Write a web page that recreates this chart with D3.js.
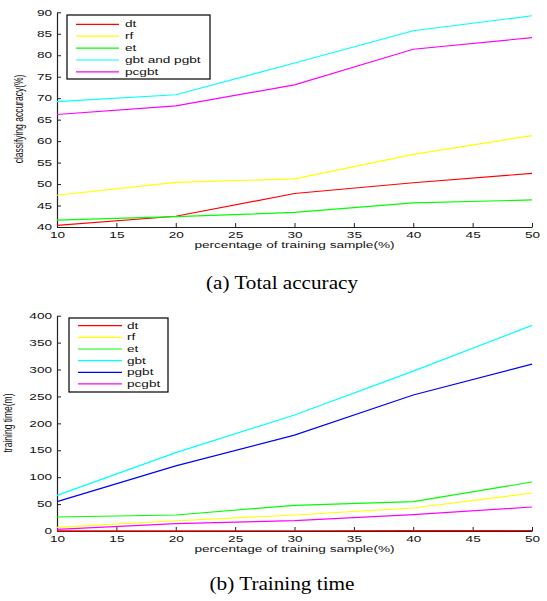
<!DOCTYPE html>
<html>
<head>
<meta charset="utf-8">
<script src="https://cdn.jsdelivr.net/npm/d3@7"></script>
<style>
  html, body { margin: 0; padding: 0; background: #fff; }
  svg { display: block; }
</style>
</head>
<body>
<script>
// Shared x values: percentage of training sample
const samplePct = [10, 20, 30, 40, 50];

// (a) Total accuracy (%)
const accDt      = [40.4, 42.5, 47.8, 50.3, 52.5];
const accRf      = [47.4, 50.4, 51.2, 56.9, 61.3];
const accEt      = [41.6, 42.4, 43.4, 45.6, 46.3];
const accGbt     = [69.2, 70.8, 78.2, 85.7, 89.2];
const accPcgbt   = [66.2, 68.2, 73.1, 81.4, 84.1];
const accNames   = ["dt", "rf", "et", "gbt and pgbt", "pcgbt"];
const accColors  = ["#ff0000", "#ffff00", "#00ff00", "#00ffff", "#ff00ff"];
const accTicks   = [40, 45, 50, 55, 60, 65, 70, 75, 80, 85, 90];

// (b) Training time (m)
const timeDt     = [0.3, 0.4, 0.5, 0.7, 0.9];
const timeRf     = [6.8, 19, 29.7, 42.7, 70.6];
const timeEt     = [26, 29.7, 47.7, 54.5, 91];
const timeGbt    = [66.3, 145.5, 215.5, 297, 382];
const timePgbt   = [54.5, 121, 178, 252.7, 310];
const timePcgbt  = [3.1, 13.6, 19.2, 30.3, 44.6];
const timeNames  = ["dt", "rf", "et", "gbt", "pgbt", "pcgbt"];
const timeColors = ["#ff0000", "#ffff00", "#00ff00", "#00ffff", "#0000ff", "#ff00ff"];
const timeTicks  = [0, 50, 100, 150, 200, 250, 300, 350, 400];

const xTicks = [10, 15, 20, 25, 30, 35, 40, 45, 50];

const W = 547, H = 601;
const SX = 1.6;            // horizontal glyph stretch of the figure text
const FONT = "'Liberation Sans', Arial, Helvetica, sans-serif";
const FS = 8.5;

const svg = d3.select("body").append("svg")
  .attr("width", W).attr("height", H)
  .attr("viewBox", `0 0 ${W} ${H}`);

function stretchedText(g, x, y, txt, anchor) {
  return g.append("text")
    .attr("transform", `translate(${x},${y}) scale(${SX},1)`)
    .attr("text-anchor", anchor || "start")
    .attr("font-family", FONT)
    .attr("font-size", FS)
    .attr("fill", "#111")
    .text(txt);
}

function drawPanel(cfg) {
  const g = svg.append("g");
  const x = d3.scaleLinear().domain([10, 50]).range([57, 532]);
  const y = d3.scaleLinear().domain(cfg.yDomain).range([cfg.yBottom, cfg.yTop]);

  // axes with inward ticks
  const xAxis = d3.axisBottom(x).tickValues(xTicks).tickSizeInner(-4).tickSizeOuter(0).tickPadding(5);
  const yAxis = d3.axisLeft(y).tickValues(cfg.yTicks).tickSizeInner(-4).tickSizeOuter(0).tickPadding(5);

  const gx = g.append("g").attr("transform", `translate(0,${cfg.yBottom})`).call(xAxis);
  const gy = g.append("g").attr("transform", `translate(57,0)`).call(yAxis);

  [gx, gy].forEach(a => {
    a.select(".domain").attr("stroke", "#222").attr("stroke-width", 1.2);
    a.selectAll(".tick line").attr("stroke", "#222").attr("stroke-width", 1);
    a.selectAll(".tick text")
      .attr("font-family", FONT).attr("font-size", FS).attr("fill", "#111");
  });
  gx.selectAll(".tick text").attr("transform", `scale(${SX},1)`);
  gy.selectAll(".tick text").attr("x", -5 / SX).attr("transform", `scale(${SX},1)`);

  // series lines
  const line = d3.line().x((d, i) => x(samplePct[i])).y(d => y(d));
  cfg.series.forEach((s, i) => {
    g.append("path")
      .datum(s)
      .attr("fill", "none")
      .attr("stroke", cfg.colors[i])
      .attr("stroke-width", 1.2)
      .attr("d", line);
  });

  // axis labels
  stretchedText(g, 294.5, cfg.yBottom + 21, "percentage of training sample(%)", "middle");
  g.append("text")
    .attr("transform", `translate(${cfg.yLabelX},${cfg.yLabelY}) scale(${SX},1) rotate(-90)`)
    .attr("text-anchor", "middle")
    .attr("font-family", FONT)
    .attr("font-size", FS)
    .attr("fill", "#111")
    .text(cfg.yLabel);

  // legend
  const L = cfg.legend;
  g.append("rect")
    .attr("x", L.x0).attr("y", L.y0)
    .attr("width", L.x1 - L.x0).attr("height", L.y1 - L.y0)
    .attr("fill", "#fff").attr("stroke", "#000").attr("stroke-width", 1.2);
  cfg.names.forEach((n, i) => {
    const yy = L.firstRow + i * L.step;
    g.append("line")
      .attr("x1", L.lx0).attr("x2", L.lx1).attr("y1", yy).attr("y2", yy)
      .attr("stroke", cfg.colors[i]).attr("stroke-width", 1.2);
    stretchedText(g, L.tx, yy + 3, n, "start");
  });

  // caption
  svg.append("text")
    .attr("x", 282).attr("y", cfg.captionY)
    .attr("text-anchor", "middle")
    .attr("font-family", "'Liberation Serif', 'Times New Roman', serif")
    .attr("font-size", 19)
    .attr("fill", "#000")
    .attr("textLength", cfg.captionLen)
    .attr("lengthAdjust", "spacingAndGlyphs")
    .text(cfg.caption);
}

drawPanel({
  yDomain: [40, 90], yTop: 12.3, yBottom: 227, yTicks: accTicks,
  series: [accDt, accRf, accEt, accGbt, accPcgbt],
  colors: accColors, names: accNames,
  yLabel: "classifying accuracy(%)", yLabelX: 23, yLabelY: 119,
  legend: { x0: 67, x1: 210, y0: 15, y1: 79, firstRow: 24.3, step: 11.9, lx0: 76, lx1: 119, tx: 125 },
  caption: "(a) Total accuracy", captionY: 289, captionLen: 152
});

drawPanel({
  yDomain: [0, 400], yTop: 315.7, yBottom: 531, yTicks: timeTicks,
  series: [timeDt, timeRf, timeEt, timeGbt, timePgbt, timePcgbt],
  colors: timeColors, names: timeNames,
  yLabel: "training time(m)", yLabelX: 12, yLabelY: 423,
  legend: { x0: 69, x1: 168, y0: 318, y1: 392, firstRow: 325.7, step: 11.65, lx0: 78, lx1: 122, tx: 127 },
  caption: "(b) Training time", captionY: 590, captionLen: 145
});
</script>
</body>
</html>
